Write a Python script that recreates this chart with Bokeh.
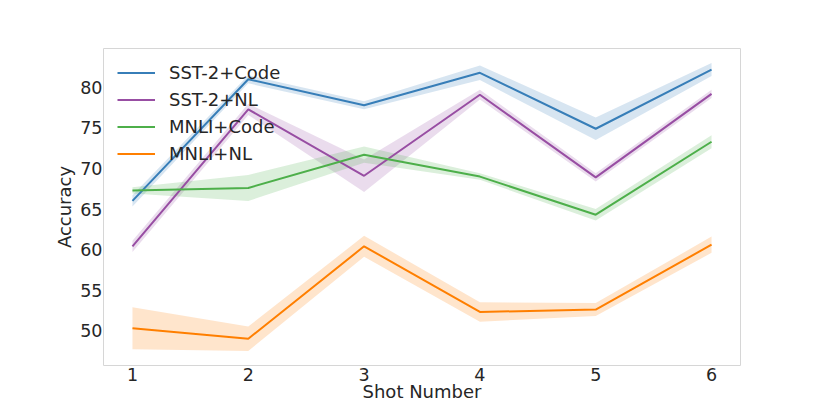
from bokeh.plotting import figure
from bokeh.embed import file_html
from bokeh.resources import INLINE
from bokeh.models import Range1d, FixedTicker

shots = [1, 2, 3, 4, 5, 6]
series_names = ["SST-2+Code", "SST-2+NL", "MNLI+Code", "MNLI+NL"]
sst2_code = [66.0, 81.0, 77.8, 81.8, 74.9, 82.2]
sst2_code_err = [0.7, 0.5, 0.5, 0.9, 1.4, 0.8]
sst2_nl = [60.4, 77.3, 69.1, 79.1, 68.9, 79.2]
sst2_nl_err = [0.7, 0.7, 2.0, 0.6, 0.5, 0.5]
mnli_code = [67.3, 67.6, 71.7, 69.0, 64.3, 73.3]
mnli_code_err = [0.4, 1.6, 1.0, 0.4, 0.7, 0.8]
mnli_nl = [50.3, 49.0, 60.4, 52.3, 52.6, 60.6]
mnli_nl_err = [2.6, 1.5, 1.3, 1.2, 0.8, 1.0]
y_ticks = [50, 55, 60, 65, 70, 75, 80]

colors = ["#377eb8", "#984ea3", "#4daf4a", "#ff7f00"]
values = [sst2_code, sst2_nl, mnli_code, mnli_nl]
errors = [sst2_code_err, sst2_nl_err, mnli_code_err, mnli_nl_err]

p = figure(width=814, height=405, output_backend="svg", toolbar_location=None,
           x_range=Range1d(0.75, 6.25), y_range=Range1d(45.7, 84.8),
           min_border_left=103, min_border_right=74, min_border_top=48, min_border_bottom=40)

for name, vals, errs, c in zip(series_names, values, errors, colors):
    lo = [v - e for v, e in zip(vals, errs)]
    hi = [v + e for v, e in zip(vals, errs)]
    p.varea(x=shots, y1=lo, y2=hi, fill_color=c, fill_alpha=0.2)
for name, vals, errs, c in zip(series_names, values, errors, colors):
    p.line(x=shots, y=vals, line_color=c, line_width=2, legend_label=name)

p.xgrid.visible = False
p.ygrid.visible = False
p.outline_line_color = "#d6d6d6"
p.outline_line_width = 1
p.background_fill_color = "white"
p.border_fill_color = "white"

p.xaxis.ticker = FixedTicker(ticks=shots)
p.yaxis.ticker = FixedTicker(ticks=y_ticks)
p.xaxis.axis_label = "Shot Number"
p.yaxis.axis_label = "Accuracy"
for ax in (p.xaxis, p.yaxis):
    ax.axis_line_color = None
    ax.major_tick_line_color = None
    ax.minor_tick_line_color = None
    ax.major_label_text_font = "DejaVu Sans"
    ax.major_label_text_font_size = "17.5px"
    ax.major_label_text_color = "#262626"
    ax.axis_label_text_font = "DejaVu Sans"
    ax.axis_label_text_font_size = "18px"
    ax.axis_label_text_font_style = "normal"
    ax.axis_label_text_color = "#262626"
p.xaxis.major_label_standoff = -4
p.xaxis.axis_label_standoff = -3
p.yaxis.major_label_standoff = -5
p.yaxis.axis_label_standoff = 2

lg = p.legend[0]
lg.location = "top_left"
lg.margin = 10
lg.padding = 4
lg.border_line_alpha = 0
lg.background_fill_alpha = 0
lg.label_text_font = "DejaVu Sans"
lg.label_text_font_size = "18px"
lg.label_text_color = "#262626"
lg.glyph_width = 38
lg.glyph_height = 21
lg.label_height = 21
lg.label_standoff = 14
lg.spacing = 6

open("out.html", "w").write(file_html(p, INLINE))
